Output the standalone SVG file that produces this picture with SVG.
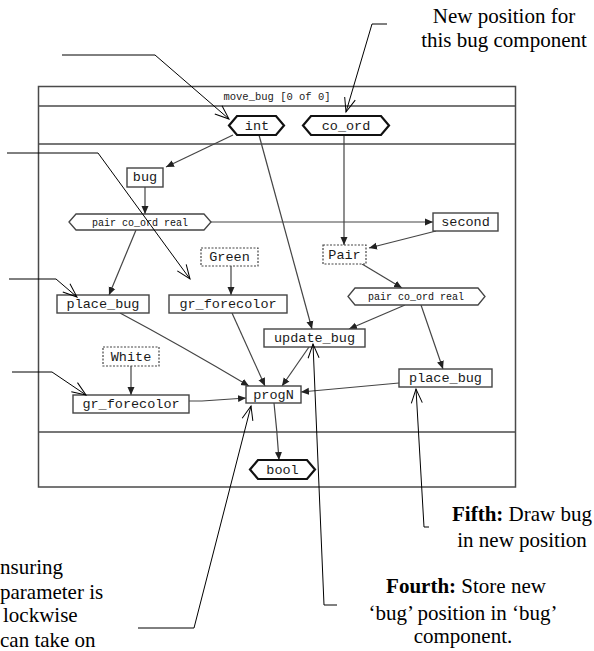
<svg xmlns="http://www.w3.org/2000/svg" width="594" height="651" viewBox="0 0 594 651">
<defs>
<style>
.frame{fill:none;stroke:#4a4a4a;stroke-width:1.5}
.box{fill:#fff;stroke:#444;stroke-width:1.4}
.dash{fill:#fff;stroke:#444;stroke-width:1.2;stroke-dasharray:2,1.5}
.hexb{fill:#fff;stroke:#111;stroke-width:2.2}
.hexs{fill:#fff;stroke:#444;stroke-width:1.3}
.lbl{font-family:"Liberation Mono","DejaVu Sans Mono",monospace;font-size:13.5px;fill:#1a1a1a;text-anchor:middle}
.sm{font-family:"Liberation Mono","DejaVu Sans Mono",monospace;font-size:10px;fill:#111;text-anchor:middle}
.conn{fill:none;stroke:#444;stroke-width:1.2;marker-end:url(#ah)}
.call{fill:none;stroke:#000;stroke-width:1;marker-end:url(#oa)}
.note{font-family:"Liberation Serif","Times New Roman",serif;font-size:21px;fill:#000}
</style>
<marker id="ah" viewBox="0 0 8 8" refX="8" refY="4" markerWidth="8" markerHeight="8" orient="auto" markerUnits="userSpaceOnUse"><path d="M0,0.5 L8,4 L0,7.5 Z" fill="#222"/></marker>
<marker id="oa" viewBox="-15 -7 17 14" refX="0" refY="0" markerWidth="17" markerHeight="14" orient="auto" markerUnits="userSpaceOnUse"><path d="M-14,-5.5 L0,0 L-14,5.5" fill="none" stroke="#000" stroke-width="1"/></marker>
</defs>
<rect width="594" height="651" fill="#fff"/>

<g id="frame">
<rect class="frame" x="38.5" y="86.5" width="477" height="400.5"/>
<line class="frame" x1="38.5" y1="106" x2="515.5" y2="106"/>
<line class="frame" x1="38.5" y1="144" x2="515.5" y2="144"/>
<line class="frame" x1="38.5" y1="432" x2="515.5" y2="432"/>
<text x="277" y="99.5" font-family="Liberation Mono,DejaVu Sans Mono,monospace" font-size="10.5" fill="#222" text-anchor="middle">move_bug [0 of 0]</text>
</g>

<g id="connectors">
<line class="conn" x1="233" y1="135" x2="166" y2="167"/>
<line class="conn" x1="145" y1="187" x2="145" y2="214"/>
<line class="conn" x1="344" y1="135" x2="344" y2="245"/>
<line class="conn" x1="211" y1="222" x2="433" y2="222"/>
<line class="conn" x1="436" y1="231" x2="369" y2="248"/>
<line class="conn" x1="362" y1="264" x2="402" y2="288"/>
<line class="conn" x1="259" y1="135" x2="312" y2="329"/>
<line class="conn" x1="405" y1="305" x2="349" y2="329"/>
<line class="conn" x1="421" y1="305" x2="443" y2="369"/>
<line class="conn" x1="136" y1="230" x2="109" y2="295"/>
<line class="conn" x1="231" y1="266" x2="231" y2="295"/>
<path class="conn" d="M120,313 Q180,345 249,386"/>
<line class="conn" x1="232" y1="313" x2="265" y2="386"/>
<line class="conn" x1="309" y1="347" x2="282" y2="386"/>
<line class="conn" x1="131" y1="366" x2="131" y2="395"/>
<polyline class="conn" points="189,401 202,401 246,398"/>
<line class="conn" x1="399" y1="383" x2="301" y2="392"/>
<path class="conn" d="M274,403 Q277,430 279,460"/>
</g>

<g id="n-int"><polygon class="hexb" points="229,125.5 237,116 276,116 284,125.5 276,135 237,135"/><text class="lbl" x="257" y="129.5">int</text></g>
<g id="n-coord"><polygon class="hexb" points="303,125.5 311,116 381,116 389,125.5 381,135 311,135"/><text class="lbl" x="346" y="129.5">co_ord</text></g>
<g id="n-bug"><rect class="box" x="127" y="168" width="36" height="19"/><text class="lbl" x="145" y="181">bug</text></g>
<g id="n-pairL"><polygon class="hexs" points="69,222 76,214 204,214 211,222 204,230 76,230"/><text class="sm" x="140" y="225.5">pair co_ord real</text></g>
<g id="n-second"><rect class="box" x="433" y="213" width="65" height="18"/><text class="lbl" x="465.5" y="226">second</text></g>
<g id="n-pair"><rect class="dash" x="323" y="245" width="43" height="19"/><text class="lbl" x="344.5" y="258.5">Pair</text></g>
<g id="n-green"><rect class="dash" x="201" y="248" width="57" height="18"/><text class="lbl" x="229.5" y="261">Green</text></g>
<g id="n-placebugL"><rect class="box" x="57" y="295" width="92" height="18"/><text class="lbl" x="103" y="307.5">place_bug</text></g>
<g id="n-grforeM"><rect class="box" x="169" y="295" width="118" height="18"/><text class="lbl" x="228" y="307.5">gr_forecolor</text></g>
<g id="n-pairR"><polygon class="hexs" points="348,296.5 355,288 478,288 485,296.5 478,305 355,305"/><text class="sm" x="416" y="300">pair co_ord real</text></g>
<g id="n-update"><rect class="box" x="264" y="329" width="101" height="18"/><text class="lbl" x="314.5" y="341.5">update_bug</text></g>
<g id="n-white"><rect class="dash" x="103" y="347" width="56" height="19"/><text class="lbl" x="131" y="360.5">White</text></g>
<g id="n-placebugR"><rect class="box" x="399" y="369" width="93" height="18"/><text class="lbl" x="445.5" y="381.5">place_bug</text></g>
<g id="n-grforeB"><rect class="box" x="73" y="395" width="116" height="18"/><text class="lbl" x="131" y="407.5">gr_forecolor</text></g>
<g id="n-progN"><rect class="box" x="246" y="386" width="55" height="17"/><text class="lbl" x="273.5" y="398.5">progN</text></g>
<g id="n-bool"><polygon class="hexb" points="250,469.5 258,460 307,460 315,469.5 307,479 258,479"/><text class="lbl" x="282.5" y="474">bool</text></g>

<g id="callouts">
<polyline class="call" points="62,55 155,55 229,119"/>
<polyline class="call" points="7,153 98,153 190,279"/>
<polyline class="call" points="9,279 56,279 77,297"/>
<polyline class="call" points="12,372 52,372 86,395"/>
<polyline class="call" points="387,24 372,24 346,112"/>
<polyline class="call" points="138,628 194,628 251,406"/>
<polyline class="call" points="337,605 324,605 313,344"/>
<polyline class="call" points="429,527 424,527 416,389"/>
</g>

<g id="notes">
<text class="note" x="504" y="23" text-anchor="middle">New position for</text>
<text class="note" x="504" y="47" text-anchor="middle">this bug component</text>
<text class="note" x="522" y="521" text-anchor="middle"><tspan font-weight="bold">Fifth:</tspan> Draw bug</text>
<text class="note" x="522" y="547" text-anchor="middle">in new position</text>
<text class="note" x="466" y="593" text-anchor="middle"><tspan font-weight="bold">Fourth:</tspan> Store new</text>
<text class="note" x="463" y="620" text-anchor="middle">‘bug’ position in ‘bug’</text>
<text class="note" x="463" y="643" text-anchor="middle">component.</text>
<text class="note" x="0" y="574">nsuring</text>
<text class="note" x="0" y="599">parameter is</text>
<text class="note" x="3" y="622">lockwise</text>
<text class="note" x="0" y="647">can take on</text>
</g>
</svg>
